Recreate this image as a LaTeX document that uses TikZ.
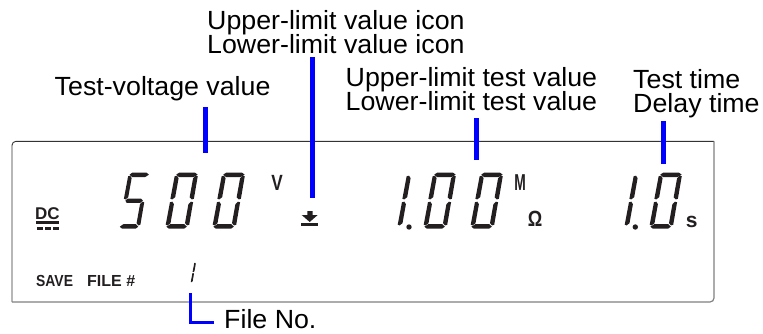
\documentclass[tikz,border=0pt]{standalone}
\usepackage{fontspec}
\setmainfont{Liberation Sans}
\definecolor{lcdink}{HTML}{231F20}
\definecolor{leaderblue}{HTML}{0000FF}
\newcommand{\sega}{(1.5,-54)--(4,-56)--(20,-56)--(23,-54)--(19,-51.5)--(5,-51.5)--cycle}
\newcommand{\segb}{(23.5,-30)--(21.5,-29.3)--(19,-31.5)--(19,-50.5)--(21,-53)--(23.3,-52.5)--cycle}
\newcommand{\segc}{(23.5,-4)--(21.5,-3.3)--(19,-5.5)--(19,-24.5)--(21,-27)--(23.3,-26.5)--cycle}
\newcommand{\segd}{(1,-2)--(4,0)--(19,0)--(21.5,-2)--(18.5,-4.5)--(4.5,-4.5)--cycle}
\newcommand{\sege}{(0,-4)--(2,-3.3)--(4.5,-5.5)--(4.5,-24.5)--(2.5,-27)--(0.2,-26.5)--cycle}
\newcommand{\segf}{(0,-30)--(2,-29.3)--(4.5,-31.5)--(4.5,-50.5)--(2.5,-53)--(0.2,-52.5)--cycle}
\newcommand{\segg}{(2,-28)--(4,-30.2)--(19,-30.2)--(21.5,-28)--(19,-25.8)--(4,-25.8)--cycle}
\newcommand{\lcddigit}[4][]{\begin{scope}[shift={(#2,#3)},xslant=0.18,#1]
\foreach \s in {#4} {\fill[lcdink] \csname seg\s\endcsname;}
\end{scope}}
\tikzset{
  callout/.style={anchor=base west,inner sep=0pt,text=black,xscale=1.018,transform shape,font=\fontsize{26.3}{26.3}\selectfont},
  panel/.style={inner sep=0pt,text=lcdink,transform shape},
  leader/.style={draw=leaderblue,line width=4.6pt},
  fileleader/.style={draw=leaderblue,line width=2.8pt}
}
\begin{document}
\begin{tikzpicture}[x=1pt,y=-1pt]
\useasboundingbox (0,0) rectangle (763,333);
\draw[draw=black!80,line width=0.9pt,rounded corners=4] (12,302) -- (12,141.3) -- (714,141.3);
\draw[draw=black!50,line width=1.2pt,rounded corners=4] (714,141.3) -- (714,302) -- (12,302);
% callouts
\node[callout] (voltagelabel) at (54.5,95) {Test-voltage value};
\node[callout] (uppericon) at (207,29.6) {Upper-limit value icon};
\node[callout] (lowericon) at (207,53.6) {Lower-limit value icon};
\node[callout] (uppertest) at (345.5,86.7) {Upper-limit test value};
\node[callout] (lowertest) at (345.5,110.7) {Lower-limit test value};
\node[callout] (testtime) at (633,88.3) {Test time};
\node[callout] (delaytime) at (633,112.3) {Delay time};
\node[callout] (filelabel) at (224,328.3) {File No.};
% leaders
\coordinate (voltagetop) at (205.7,107);\coordinate (voltageend) at (205.7,152.7);
\coordinate (icontop) at (312.3,57);\coordinate (iconend) at (312.3,198.3);
\coordinate (testtop) at (476.7,118);\coordinate (testend) at (476.7,159.7);
\coordinate (timetop) at (663.3,121);\coordinate (timeend) at (663.3,163.7);
\coordinate (filestart) at (190.5,293);\coordinate (filetip) at (214,322.5);
\draw[leader] (voltagetop)--(voltageend);
\draw[leader] (icontop)--(iconend);
\draw[leader] (testtop)--(testend);
\draw[leader] (timetop)--(timeend);
\draw[fileleader] (filestart) |- (filetip);
% digits
\lcddigit[xscale=0.9]{118.5}{228.7}{a,f,g,c,d}
\lcddigit{165}{228.7}{a,b,c,d,e,f}
\lcddigit{212}{228.7}{a,b,c,d,e,f}
\lcddigit{397}{228.7}{e,f}
\lcddigit{423}{228.7}{a,b,c,d,e,f}
\lcddigit{470}{228.7}{a,b,c,d,e,f}
\lcddigit{624}{228.7}{e,f}
\lcddigit{649}{228.7}{a,b,c,d,e,f}
\lcddigit[scale=0.39]{190.5}{283.5}{e,f}
\fill[lcdink] (409,227) circle (2.7);
\fill[lcdink] (635.3,227) circle (2.7);
% units
\node[panel,xscale=0.78,anchor=base,font=\fontsize{22}{22}\bfseries] (voltunit) at (277,190) {V};
\node[panel,xscale=0.6,anchor=base,font=\fontsize{23}{23}\bfseries] (megaunit) at (520,190.7) {M};
\node[panel,xscale=0.82,anchor=base,font=\fontsize{22}{22}\bfseries] (ohmunit) at (535,226.7) {Ω};
\node[panel,anchor=base,font=\fontsize{21}{21}\bfseries] (secunit) at (691.7,227) {s};
\node[panel,anchor=base west,font=\fontsize{17}{17}\bfseries] (dclabel) at (35,219.3) {DC};
\fill[lcdink] (36,220.7) rectangle (59,224);
\fill[lcdink] (37,227) rectangle (43,229.7);
\fill[lcdink] (45,227) rectangle (51,229.7);
\fill[lcdink] (53,227) rectangle (59,229.7);
\node[panel,xscale=0.87,anchor=base west,font=\fontsize{16}{16}\bfseries] (savelabel) at (36,286.7) {SAVE};
\node[panel,anchor=base west,font=\fontsize{16}{16}\bfseries] (filenolabel) at (87,286.7) {FILE \#};
% limit icon
\fill[lcdink] (307.3,211)--(312.7,211)--(312.7,215)--(317.7,215)--(309.7,222)--(301.7,215)--(307.3,215)--cycle;
\fill[lcdink] (301,223) rectangle (318,226);
\end{tikzpicture}
\end{document}
